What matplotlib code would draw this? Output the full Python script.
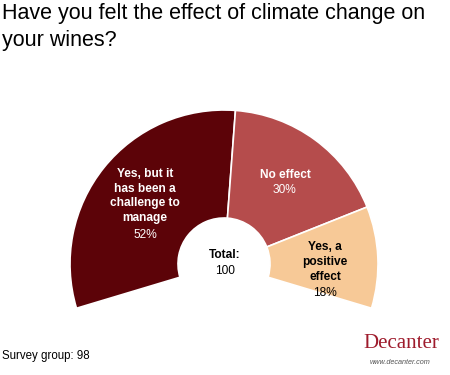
import numpy as np
import matplotlib
matplotlib.use("Agg")
import matplotlib.pyplot as plt
from matplotlib.patches import Wedge

plt.rcParams['font.family'] = ['Liberation Sans', 'DejaVu Sans']

# survey answers
labels = ["Yes, but it\nhas been a\nchallenge to\nmanage", "No effect", "Yes, a\npositive\neffect"]
shares = [52, 30, 18]
colors = ["#5c0308", "#b54c4c", "#f7c997"]
text_colors = ["white", "white", "black"]
total = 100
survey_group = 98

# the donut covers a bit more than half a circle
start_angle = 196.7
span = 213.4
cx, cy = 224, 375 - 264
r_out, r_in = 154, 46

fig = plt.figure(figsize=(4.5, 3.75), dpi=100)
ax = fig.add_axes([0, 0, 1, 1])
ax.set_xlim(0, 450)
ax.set_ylim(0, 375)
ax.set_aspect('equal')
ax.axis('off')

fracs = np.array(shares) / sum(shares)
cum = np.concatenate([[0], np.cumsum(fracs)])
for i, (frac, col) in enumerate(zip(fracs, colors)):
    t2 = start_angle - cum[i] * span
    t1 = start_angle - cum[i + 1] * span
    ax.add_patch(Wedge((cx, cy), r_out, t1, t2, width=r_out - r_in,
                       facecolor=col, edgecolor='white', linewidth=1.2))

# slice labels (placed by eye like the original)
label_pos = [(145, 196), (285, 175), (325, 262)]
pct_pos = [(145, 235), (284, 190), (325, 293)]
for lab, sh, tc, (lx, ly), (px, py) in zip(labels, shares, text_colors, label_pos, pct_pos):
    ax.text(lx, 375 - ly, lab, ha='center', va='center', color=tc,
            fontsize=8.6, fontweight='bold', linespacing=1.33)
    ax.text(px, 375 - py, f"{sh}%", ha='center', va='center', color=tc, fontsize=8.6)

ax.text(225, 375 - 255, "Total:", ha='center', va='center', fontsize=8.6, fontweight='bold')
ax.text(225, 375 - 271, str(total), ha='center', va='center', fontsize=8.6)

ax.text(2, 375 - 3, "Have you felt the effect of climate change on\nyour wines?",
        ha='left', va='top', fontsize=15.5, linespacing=1.35)
ax.text(2, 375 - 356, f"Survey group: {survey_group}", ha='left', va='center', fontsize=8.3)

# publisher mark
ax.text(401, 375 - 344, "Decanter", ha='center', va='center', fontsize=15,
        family='Liberation Serif', color='#9e1b2c')
ax.text(400, 375 - 362, "www.decanter.com", ha='center', va='center', fontsize=5.2,
        style='italic', color='#555555')

fig.savefig("out.png", dpi=100)
